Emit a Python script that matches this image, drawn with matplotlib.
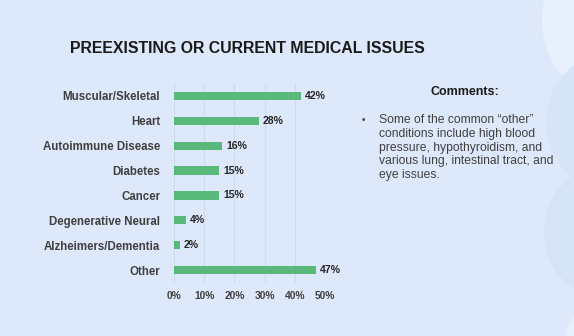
import matplotlib
matplotlib.use("Agg")
import matplotlib.pyplot as plt
from matplotlib.patches import Circle

categories = ["Muscular/Skeletal", "Heart", "Autoimmune Disease", "Diabetes",
              "Cancer", "Degenerative Neural", "Alzheimers/Dementia", "Other"]
values = [42, 28, 16, 15, 15, 4, 2, 47]
xticks = [0, 10, 20, 30, 40, 50]
title = "PREEXISTING OR CURRENT MEDICAL ISSUES"
comment_head = "Comments:"
comment_lines = ["Some of the common \u201cother\u201d",
                 "conditions include high blood",
                 "pressure, hypothyroidism, and",
                 "various lung, intestinal tract, and",
                 "eye issues."]

plt.rcParams['font.family'] = ['Liberation Sans', 'DejaVu Sans']

W, H = 574, 336
fig = plt.figure(figsize=(W / 100, H / 100), dpi=100)
bg = "#dde9fa"
fig.patch.set_facecolor(bg)

# decorative circles on the right edge
deco = fig.add_axes([0, 0, 1, 1], zorder=-1)
deco.set_xlim(0, W)
deco.set_ylim(H, 0)
deco.axis("off")
for (cx, cy, r, col) in [(630, 20, 88, "#e7f0fc"), (618, 122, 72, "#d6e4f7"),
                         (614, 232, 70, "#d4e3f6"), (625, 350, 62, "#e6effc")]:
    deco.add_patch(Circle((cx, cy), r, facecolor=col, edgecolor="none"))

ax = fig.add_axes([174 / W, 1 - 282.5 / H, 151 / W, 199 / H])
ax.set_facecolor("none")
y = list(range(len(categories)))
ax.barh(y, values, height=0.33, color="#58b97a", zorder=3)
for yi, v in zip(y, values):
    ax.text(v + 1.3, yi, f"{v}%", va="center", ha="left", fontsize=7.6,
            fontweight="bold", color="#262626", clip_on=False)
ax.set_yticks(y)
ax.set_yticklabels(categories, fontsize=8.3, fontweight="bold", color="#404040")
ax.set_ylim(len(categories) - 0.5, -0.5)
ax.set_xlim(0, 50)
ax.set_xticks(xticks)
ax.set_xticklabels([f"{t}%" for t in xticks], fontsize=7.4, fontweight="bold", color="#404040")
ax.tick_params(axis="both", length=0)
ax.tick_params(axis="y", pad=10)
ax.tick_params(axis="x", pad=6)
ax.grid(axis="x", color="#cfdbec", linewidth=0.8, zorder=0)
for s in ax.spines.values():
    s.set_visible(False)

fig.text(247.5 / W, 1 - 48.5 / H, title, ha="center", va="center",
         fontsize=11.4, fontweight="bold", color="#1a1a1a")
fig.text(465 / W, 1 - 92 / H, comment_head, ha="center", va="center",
         fontsize=9, fontweight="bold", color="#1a1a1a")
fig.text(363 / W, 1 - 120 / H, "\u2022", ha="center", va="center",
         fontsize=7, color="#404040")
line_h = 13.8
for i, line in enumerate(comment_lines):
    fig.text(379 / W, 1 - (120 + i * line_h) / H, line, ha="left", va="center",
             fontsize=8.75, color="#404040")

fig.savefig("out.png", dpi=100, facecolor=bg)
